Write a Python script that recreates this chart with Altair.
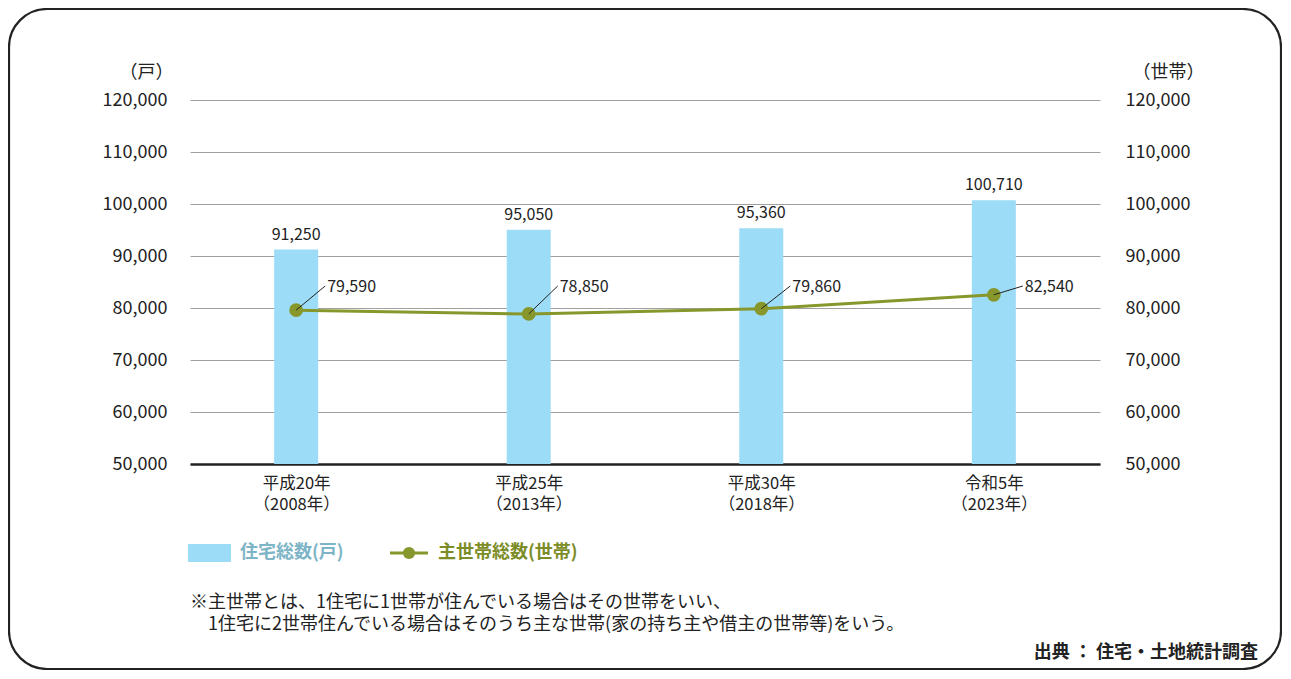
import json
import altair as alt
import pandas as pd

# ---- data ----
eras = ["平成20年", "平成25年", "平成30年", "令和5年"]
years = ["（2008年）", "（2013年）", "（2018年）", "（2023年）"]
housing = [91250, 95050, 95360, 100710]       # 住宅総数（戸）
households = [79590, 78850, 79860, 82540]     # 主世帯総数（世帯）
y_ticks = [50000, 60000, 70000, 80000, 90000, 100000, 110000, 120000]

legend_labels = ["住宅総数(戸)", "主世帯総数(世帯)"]
note_lines = [
    "※主世帯とは、1住宅に1世帯が住んでいる場合はその世帯をいい、",
    "1住宅に2世帯住んでいる場合はそのうち主な世帯(家の持ち主や借主の世帯等)をいう。",
]
source_text = "出典 ： 住宅・土地統計調査"

df = pd.DataFrame({
    "i": list(range(len(eras))),
    "housing": housing,
    "households": households,
})

FONT = "Noto Sans CJK JP"
BAR = "#9ddcf6"
OLIVE = "#87972b"

era_js = json.dumps(eras, ensure_ascii=False)
year_js = json.dumps(years, ensure_ascii=False)
label_expr = f"[{era_js}[datum.value], {year_js}[datum.value]]"
num_expr = "format(datum.value, ',')"

xscale = alt.Scale(domain=[-0.435, 3.435], nice=False, zero=False)
yscale = alt.Scale(domain=[50000, 120000], nice=False, zero=False)

x_enc = alt.X(
    "i:Q", scale=xscale, title=None,
    axis=alt.Axis(values=list(range(len(eras))), labelExpr=label_expr, grid=False,
                  ticks=False, domain=True, domainColor="#222222", domainWidth=2.5,
                  labelPadding=11, labelFontSize=16.5, labelLineHeight=21,
                  labelFlush=False, labelOverlap=False, labelBaseline="top"),
)

base = alt.Chart(df)

bars = base.mark_bar(color=BAR, size=44).encode(
    x=x_enc,
    y=alt.Y("housing:Q", scale=yscale, axis=alt.Axis(
        orient="left", values=y_ticks, labelExpr=num_expr, grid=True, ticks=False, domain=False,
        labelPadding=23, title="（戸）", titleAngle=0, titleX=-17, titleY=-28,
        titleAlign="right", titleBaseline="middle")),
    y2=alt.datum(50000),
)

bar_labels = base.mark_text(baseline="bottom", dy=-7, fontSize=16, font=FONT, color="#222222").encode(
    x=x_enc,
    y=alt.Y("housing:Q", scale=yscale, axis=None),
    text=alt.Text("housing:Q", format=",.0f"),
)

line = base.mark_line(color=OLIVE, strokeWidth=3).encode(
    x=x_enc,
    y=alt.Y("households:Q", scale=yscale, axis=alt.Axis(
        orient="right", values=y_ticks, labelExpr=num_expr, grid=False, ticks=False, domain=False,
        labelPadding=25, title="（世帯）", titleAngle=0, titleX=32, titleY=-28,
        titleAlign="left", titleBaseline="middle")),
)

points = base.mark_circle(color=OLIVE, size=190, opacity=1).encode(
    x=x_enc,
    y=alt.Y("households:Q", scale=yscale, axis=None),
)

leaders = base.mark_rule(color="#222222", strokeWidth=1, x2Offset=29).encode(
    x=x_enc,
    x2="i:Q",
    y=alt.Y("households:Q", scale=yscale, axis=None),
    y2=alt.value(186),
)

line_labels = base.mark_text(align="left", baseline="middle", dx=31, fontSize=16,
                             font=FONT, color="#222222").encode(
    x=x_enc,
    y=alt.value(187),
    text=alt.Text("households:Q", format=",.0f"),
)

one = pd.DataFrame({"k": [0]})

border = alt.Chart(one).mark_rect(fill=None, stroke="#222222", strokeWidth=2.2,
                                  cornerRadius=38).encode(
    x=alt.value(-181), x2=alt.value(1091), y=alt.value(-91), y2=alt.value(569),
)

leg_rect = alt.Chart(one).mark_rect(color=BAR).encode(
    x=alt.value(-2), x2=alt.value(41), y=alt.value(444), y2=alt.value(462),
)
leg_line = alt.Chart(one).mark_rule(color=OLIVE, strokeWidth=3).encode(
    x=alt.value(200), x2=alt.value(238), y=alt.value(453),
)
leg_dot = alt.Chart(one).mark_circle(color=OLIVE, size=150, opacity=1).encode(
    x=alt.value(219), y=alt.value(453),
)
leg_t1 = alt.Chart(pd.DataFrame({"t": [legend_labels[0]]})).mark_text(
    align="left", baseline="middle", fontSize=18, fontWeight="bold", font=FONT, color="#7db4c6"
).encode(x=alt.value(50), y=alt.value(453), text="t:N")
leg_t2 = alt.Chart(pd.DataFrame({"t": [legend_labels[1]]})).mark_text(
    align="left", baseline="middle", fontSize=18, fontWeight="bold", font=FONT, color="#7c8d27"
).encode(x=alt.value(248), y=alt.value(453), text="t:N")

note1 = alt.Chart(pd.DataFrame({"t": [note_lines[0]]})).mark_text(
    align="left", baseline="middle", fontSize=18, font=FONT, color="#222222"
).encode(x=alt.value(0), y=alt.value(503), text="t:N")
note2 = alt.Chart(pd.DataFrame({"t": [note_lines[1]]})).mark_text(
    align="left", baseline="middle", fontSize=18, font=FONT, color="#222222"
).encode(x=alt.value(18), y=alt.value(525), text="t:N")
source = alt.Chart(pd.DataFrame({"t": [source_text]})).mark_text(
    align="right", baseline="middle", fontSize=18, fontWeight="bold", font=FONT, color="#222222"
).encode(x=alt.value(1068), y=alt.value(553), text="t:N")

chart = alt.layer(
    border, bars, bar_labels, line, points, leaders, line_labels,
    leg_rect, leg_line, leg_dot, leg_t1, leg_t2, note1, note2, source,
).resolve_axis(y="independent").properties(
    width=910, height=364, autosize="none",
    padding={"left": 182, "top": 92, "right": 182, "bottom": 206},
    background="white",
).configure_view(stroke=None).configure_axis(
    labelFont=FONT, labelFontSize=18, labelColor="#222222",
    titleFont=FONT, titleFontSize=18, titleFontWeight="normal", titleColor="#222222",
    gridColor="#a0a0a0", gridWidth=1,
)

chart.save("out.html", embed_options={"renderer": "svg", "actions": False})
